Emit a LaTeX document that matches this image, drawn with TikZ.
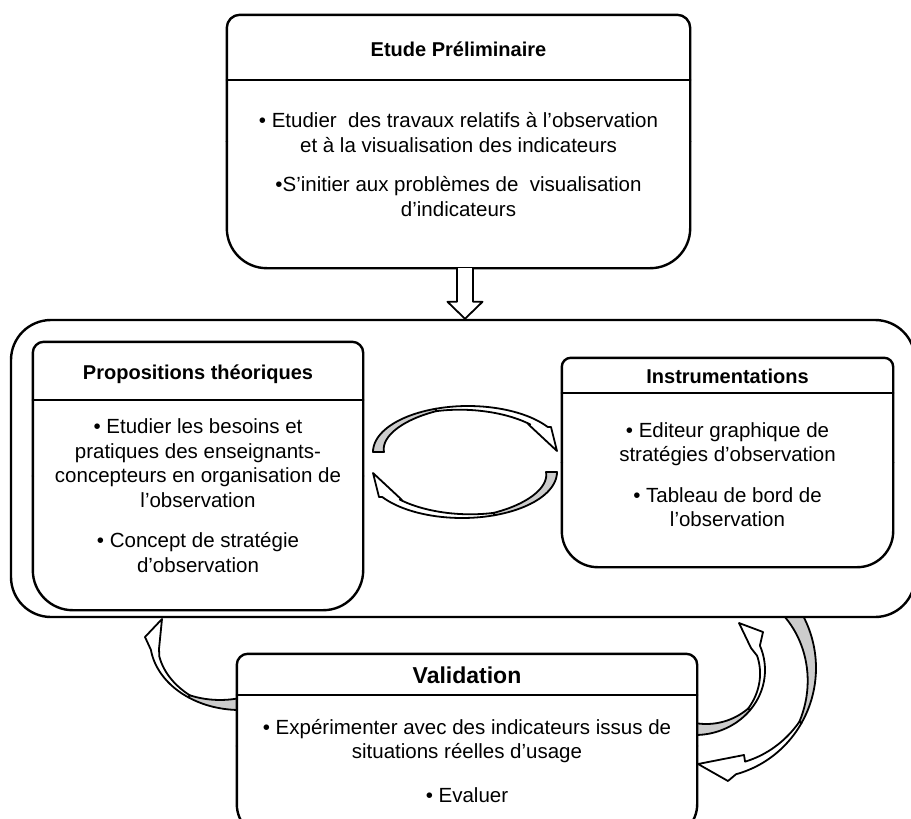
\documentclass[tikz,border=0pt]{standalone}
\usepackage{fontspec}
\setmainfont{Liberation Sans}
\tikzset{
  cadre/.style = {inner sep=0pt, fill=white, rounded corners=12pt},
  bord/.style = {draw=black, line width=2.4pt, line join=round, line cap=round},
  titre/.style = {inner sep=0pt, font=\fontsize{20}{24}\selectfont\bfseries},
  texte/.style = {align=center, inner sep=0pt,
    font=\fontsize{20.5}{24.5}\selectfont},
  fleche_b/.style = {draw=black, fill=white, line width=1.8pt,
    line join=round},% partie claire de la fleche
  fleche_g/.style = {fleche_b, fill=gray!40}% queue grise de la fleche
}
\usetikzlibrary{calc}

\begin{document}
\begin{tikzpicture}[x=1pt, y=-1pt]
\useasboundingbox (0,0) rectangle (911,819);
\clip (0,0) rectangle (911,819);

% fleches courbes autour de la validation
\draw[fleche_g] plot[domain=90:125] ({240+90*cos(\x)},{640+70*sin(\x)})
  -- plot[domain=125:90] ({240+(87.5-9.5*(125-\x)/35)*cos(\x)},{640+(67.5-9.5*(125-\x)/35)*sin(\x)}) -- cycle;
\draw[fleche_b] plot[domain=125:172] ({240+90*cos(\x)},{640+70*sin(\x)})
  -- (145,637) -- (162,619) -- (159,649)
  -- plot[domain=165:125] ({240+(87.5-4*(\x-125)/40)*cos(\x)},{640+(67.5-4*(\x-125)/40)*sin(\x)}) -- cycle;

\draw[fleche_g] plot[domain=90:38] ({695+70*cos(\x)},{670+65*sin(\x)})
  -- plot[domain=38:90] ({695+(67.5-9.5*(\x-38)/52)*cos(\x)},{670+(62.5-9.5*(\x-38)/52)*sin(\x)}) -- cycle;
\draw[fleche_b] plot[domain=38:-22] ({695+70*cos(\x)},{670+65*sin(\x)})
  -- (763,632) -- (739,623) -- (751,648)
  -- plot[domain=-14:38] ({695+(67.5-3.5*(38-\x)/52)*cos(\x)},{670+(62.5-3.5*(38-\x)/52)*sin(\x)}) -- cycle;

\draw[fleche_g] plot[domain=-35:30] ({708+108*cos(\x)},{668+110*sin(\x)})
  -- plot[domain=30:-35] ({708+(105.5-12.5*(30-\x)/57)*cos(\x)},{668+(107.5-12.5*(30-\x)/57)*sin(\x)}) -- cycle;
\draw[fleche_b] plot[domain=30:75] ({708+108*cos(\x)},{668+110*sin(\x)})
  -- (728,781) -- (698,764) -- (744,755)
  -- plot[domain=68:30] ({708+(105.5-6.5*(\x-30)/38)*cos(\x)},{668+(107.5-6.5*(\x-30)/38)*sin(\x)}) -- cycle;

% grand cadre
\node[cadre, bord, rounded corners=40pt, minimum width=904pt,
  minimum height=297pt] (projet) at (463,468.5) {};

% cycle theorie / instrumentation
\foreach \r in {0,180}{
  \begin{scope}[rotate around={\r:(465,462)}]
    \draw[fleche_g] plot[domain=180:250] ({468+95*cos(\x)},{452+46*sin(\x)})
      -- plot[domain=250:180] ({468+(92.5-8.5*(250-\x)/70)*cos(\x)},{452+(43.5-8.5*(250-\x)/70)*sin(\x)}) -- cycle;
    \draw[fleche_b] plot[domain=250:327] ({468+95*cos(\x)},{452+46*sin(\x)})
      -- (551,427) -- (557,451) -- (528,424)
      -- plot[domain=315:250] ({468+(92.5-4.5*(\x-250)/65)*cos(\x)},{452+(43.5-4.5*(\x-250)/65)*sin(\x)}) -- cycle;
  \end{scope}
}

% etude preliminaire
\node[cadre, minimum width=463pt, minimum height=253pt] (etude) at (458.5,141.5) {};
\draw[bord, rounded corners=13pt] (etude.west) |- (etude.north) -| (etude.east);
\draw[bord, rounded corners=40pt] (etude.west) |- (etude.south) -| (etude.east);
\draw[bord] ($(etude.north west)+(0,65)$) -- ($(etude.north east)+(0,65)$);
\node[titre] (etude_t) at ($(etude.north)+(0,34)$) {Etude Préliminaire};
\node[texte] (etude_x) at ($(etude.north)+(0,150)$) {• Etudier~ des travaux relatifs à l’observation\\
  et à la visualisation des indicateurs\\[15pt]
  •S’initier aux problèmes de~ visualisation\\ d’indicateurs};

% propositions theoriques
\node[cadre, minimum width=330pt, minimum height=268pt] (theorie) at (198,476) {};
\draw[bord, rounded corners=11pt] (theorie.west) |- (theorie.north) -| (theorie.east);
\draw[bord, rounded corners=40pt] (theorie.west) |- (theorie.south) -| (theorie.east);
\draw[bord] ($(theorie.north west)+(0,58)$) -- ($(theorie.north east)+(0,58)$);
\node[titre] (theorie_t) at ($(theorie.north)+(0,32)$) {Propositions théoriques};
\node[texte] (theorie_x) at ($(theorie.north)+(0,154)$) {• Etudier les besoins et\\
  pratiques des enseignants-\\ concepteurs en organisation de\\ l’observation\\[16pt]
  • Concept de stratégie\\ d’observation};

% instrumentations
\node[cadre, minimum width=331pt, minimum height=209pt] (instru) at (727.5,462.5) {};
\draw[bord, rounded corners=9pt] (instru.west) |- (instru.north) -| (instru.east);
\draw[bord, rounded corners=36pt] (instru.west) |- (instru.south) -| (instru.east);
\draw[bord] ($(instru.north west)+(0,35)$) -- ($(instru.north east)+(0,35)$);
\node[titre] (instru_t) at ($(instru.north)+(0,19)$) {Instrumentations};
\node[texte] (instru_x) at ($(instru.north)+(0,117)$) {• Editeur graphique de\\
  stratégies d’observation\\[16pt] • Tableau de bord de\\ l’observation};

% validation
\node[cadre, minimum width=460pt, minimum height=184pt] (valid) at (467,746) {};
\draw[bord, rounded corners=11pt] (valid.west) |- (valid.north) -| (valid.east);
\draw[bord, rounded corners=34pt] (valid.west) |- (valid.south) -| (valid.east);
\draw[bord] ($(valid.north west)+(0,41)$) -- ($(valid.north east)+(0,41)$);
\node[titre, font=\fontsize{23}{27}\selectfont\bfseries] (valid_t) at ($(valid.north)+(0,21)$) {Validation};
\node[texte] (valid_x) at ($(valid.north)+(0,107)$) {• Expérimenter avec des indicateurs issus de\\
  situations réelles d’usage\\[19pt] • Evaluer};

% double fleche vers le grand cadre
\coordinate (haut) at ($(etude.south)+(6.5,0)$);
\coordinate (bas) at (haut |- projet.north);
\draw[fleche_b] ($(haut)+(-8,0)$) -- ($(bas)+(-8,-17)$) -- ($(bas)+(-17.5,-17)$)
  -- (bas) -- ($(bas)+(17.5,-17)$) -- ($(bas)+(8,-17)$) -- ($(haut)+(8,0)$);
\end{tikzpicture}
\end{document}
